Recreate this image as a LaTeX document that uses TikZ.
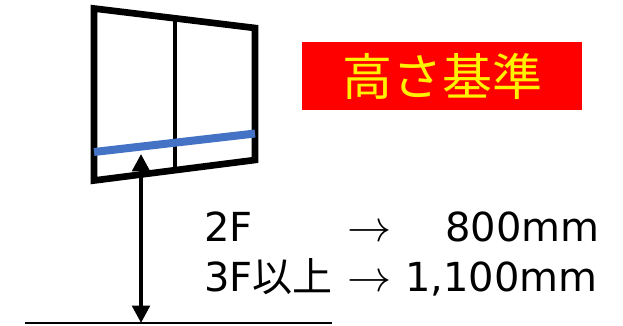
\documentclass[tikz,border=0pt]{standalone}
\usepackage{fontspec}
\setmainfont{DejaVu Sans}
\newfontfamily\cjkfont{Noto Sans CJK JP}
\usetikzlibrary{arrows.meta}
\newcommand{\thinarrow}{\scalebox{1.33}{$\rightarrow$}}
\tikzstyle{label}=[inner sep=0pt, anchor=base west, font=\fontsize{30pt}{30pt}\selectfont]
\tikzstyle{wframe}=[draw, line width=5pt, miter limit=10]
\tikzstyle{banner}=[fill=red, text=yellow, inner sep=0pt, minimum width=210pt, minimum height=51pt, font=\cjkfont\fontsize{37.5pt}{37.5pt}\selectfont]

\begin{document}
\begin{tikzpicture}[x=0.75pt, y=-0.75pt]
        \useasboundingbox (0, 0) rectangle (623, 325);
        \coordinate (TL) at (94, 8.5);
        \coordinate (TR) at (255, 28);
        \coordinate (BR) at (255, 160);
        \coordinate (BL) at (94, 180.5);
        \coordinate (MT) at (175, 18);
        \coordinate (MB) at (175, 170);
        \coordinate (HL) at (94, 152);
        \coordinate (HR) at (255, 133.5);
        \coordinate (GL) at (25, 323);
        \coordinate (GR) at (332, 323);
        \coordinate (AT) at (141, 154);
        \coordinate (AB) at (141, 323);
        \draw[wframe] (TL) -- (TR) -- (BR) -- (BL) -- cycle;
        \draw[line width=3.4pt] (MT) -- (MB);
        \draw[line width=6pt, color={rgb,255:red,68;green,114;blue,196}] (HL) -- (HR);
        \draw[line width=0.9pt] (GL) -- (GR);
        \draw[line width=3pt, {Triangle[length=13pt, width=13pt]}-{Triangle[length=13pt, width=13pt]}] (AT) -- (AB);
        \node[banner]            (title) at (442, 76) {高さ基準};
        \node[label]             (floorA) at (204, 241) {2F};
        \node[label]             (arrowA) at (347, 241) {\thinarrow};
        \node[label]             (sizeA) at (445, 241) {800mm};
        \node[label]             (floorB) at (204, 291) {3F{\cjkfont 以上}};
        \node[label]             (arrowB) at (347, 291) {\thinarrow};
        \node[label]             (sizeB) at (405, 291) {1,100mm};
    \end{tikzpicture}
\end{document}
